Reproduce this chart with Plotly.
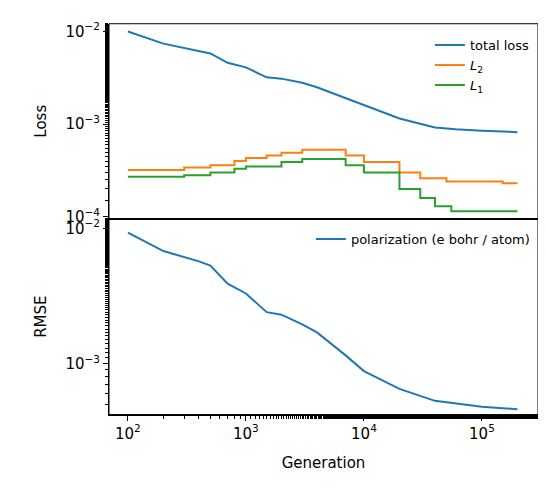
import plotly.graph_objects as go

gen_total = [100,200,500,700,1000,1500,2000,3000,4000,7000,10000,20000,40000,60000,100000,200000]
total_loss = [1.0e-2,7.4e-3,5.8e-3,4.6e-3,4.1e-3,3.2e-3,3.1e-3,2.8e-3,2.5e-3,1.9e-3,1.6e-3,1.15e-3,9.2e-4,8.8e-4,8.5e-4,8.2e-4]
gen_l2 = [100,200,300,500,800,1000,1500,2000,3000,5000,7000,10000,20000,30000,50000,100000,150000,200000]
l2 = [3.2e-4,3.2e-4,3.4e-4,3.6e-4,4.0e-4,4.3e-4,4.6e-4,4.9e-4,5.3e-4,5.3e-4,4.6e-4,3.9e-4,3.0e-4,2.6e-4,2.4e-4,2.4e-4,2.3e-4,2.3e-4]
gen_l1 = [100,300,500,800,1000,2000,3000,5000,7000,10000,20000,30000,40000,55000,200000]
l1 = [2.7e-4,2.8e-4,3.0e-4,3.3e-4,3.5e-4,3.9e-4,4.2e-4,4.2e-4,3.6e-4,3.0e-4,2.0e-4,1.6e-4,1.3e-4,1.15e-4,1.15e-4]
gen_pol = [100,200,400,500,700,1000,1500,2000,3000,4000,7000,10000,20000,40000,100000,200000]
pol = [9.3e-3,6.8e-3,5.7e-3,5.3e-3,3.9e-3,3.3e-3,2.4e-3,2.3e-3,1.95e-3,1.7e-3,1.15e-3,8.8e-4,6.5e-4,5.3e-4,4.8e-4,4.6e-4]

fig = go.Figure()
fig.add_trace(go.Scatter(x=gen_total, y=total_loss, mode="lines", name="total loss", line=dict(color="#1f77b4", width=2), xaxis="x", yaxis="y", legend="legend"))
fig.add_trace(go.Scatter(x=gen_l2, y=l2, mode="lines", name="<i>L</i><sub>2</sub>", line=dict(color="#ff7f0e", width=2, shape="hv"), xaxis="x", yaxis="y", legend="legend"))
fig.add_trace(go.Scatter(x=gen_l1, y=l1, mode="lines", name="<i>L</i><sub>1</sub>", line=dict(color="#2ca02c", width=2, shape="hv"), xaxis="x", yaxis="y", legend="legend"))
fig.add_trace(go.Scatter(x=gen_pol, y=pol, mode="lines", name="polarization (e bohr / atom)", line=dict(color="#1f77b4", width=2), xaxis="x2", yaxis="y2", legend="legend2"))

ax = dict(type="log", showgrid=False, zeroline=False, showline=True, linecolor="black", mirror=False,
          ticks="outside", ticklen=5, tickcolor="black", minor=dict(ticks="outside", ticklen=3, tickcolor="black"),
          tickfont=dict(size=15, color="black"))
xd = [0.185, 0.9707]
yd1 = [0.5665, 0.9734]
yd2 = [0.1575, 0.5665]
fig.update_layout(
    width=546, height=489, margin=dict(l=0, r=0, t=0, b=0),
    plot_bgcolor="white", paper_bgcolor="white",
    font=dict(family="DejaVu Sans", color="black"),
    xaxis=dict(ax, domain=xd, anchor="y", range=[1.84, 5.475], showticklabels=False, ticks="", minor=dict(ticks=""), matches="x2"),
    xaxis2=dict(ax, domain=xd, anchor="y2", range=[1.84, 5.475],
                tickvals=[100, 1000, 10000, 100000], ticktext=["10<sup>2</sup>", "10<sup>3</sup>", "10<sup>4</sup>", "10<sup>5</sup>"],
                title=dict(text="Generation", font=dict(size=15))),
    yaxis=dict(ax, domain=yd1, anchor="x", range=[-4.02, -1.916],
               tickvals=[1e-4, 1e-3, 1e-2], ticktext=["10<sup>−4</sup>", "10<sup>−3</sup>", "10<sup>−2</sup>"],
               title=dict(text="Loss", font=dict(size=15))),
    yaxis2=dict(ax, domain=yd2, anchor="x2", range=[-3.377, -1.928],
                tickvals=[1e-3, 1e-2], ticktext=["10<sup>−3</sup>", "10<sup>−2</sup>"],
                title=dict(text="RMSE", font=dict(size=15))),
    legend=dict(x=0.965, y=0.96, xanchor="right", yanchor="top", bgcolor="rgba(0,0,0,0)", font=dict(size=13)),
    legend2=dict(x=0.965, y=0.555, xanchor="right", yanchor="top", bgcolor="rgba(0,0,0,0)", font=dict(size=13)),
    shapes=[
        dict(type="rect", xref="paper", yref="paper", x0=xd[0], x1=xd[1], y0=yd1[0], y1=yd1[1], line=dict(color="black", width=1)),
        dict(type="rect", xref="paper", yref="paper", x0=xd[0], x1=xd[1], y0=yd2[0], y1=yd2[1], line=dict(color="black", width=1)),
    ],
)
fig.write_html("out.html")
